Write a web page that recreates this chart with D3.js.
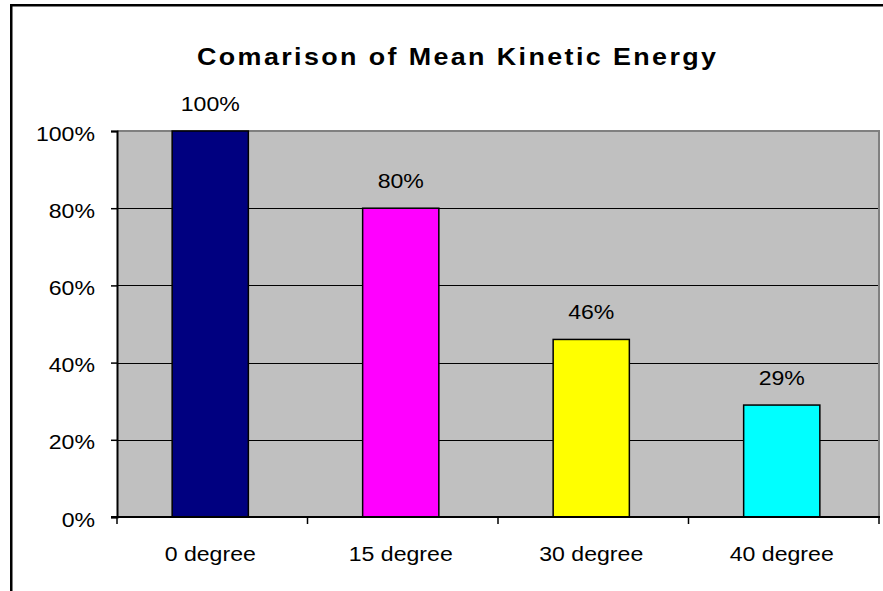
<!DOCTYPE html>
<html>
<head>
<meta charset="utf-8">
<script src="https://cdn.jsdelivr.net/npm/d3@7"></script>
<style>
  html, body { margin: 0; padding: 0; background: #fff; }
  svg { display: block; }
  text { font-family: Arial, "Liberation Sans", sans-serif; fill: #000; }
</style>
</head>
<body>
<svg id="chart" width="883" height="591"></svg>
<script>
const title = "Comarison of Mean Kinetic Energy";
const categories = ["0 degree", "15 degree", "30 degree", "40 degree"];
const values = [1.00, 0.80, 0.46, 0.29];
const valueLabels = ["100%", "80%", "46%", "29%"];
const colors = ["#000080", "#FF00FF", "#FFFF00", "#00FFFF"];
const yTicks = [0, 0.2, 0.4, 0.6, 0.8, 1.0];

const svg = d3.select("#chart");
const W = 883, H = 591;
const plot = { left: 117, right: 879, top: 131, bottom: 517 };
const SX = 1.1; // horizontal stretch of the text glyphs
const FS = 21;

// outer frame
svg.append("rect")
  .attr("x", 11.25).attr("y", 5.25)
  .attr("width", W).attr("height", H)
  .attr("fill", "#fff").attr("stroke", "#000").attr("stroke-width", 2.5);

// title
const TS = 1.12;
svg.append("text")
  .attr("transform", `translate(${(197 + 716) / 2},65) scale(${TS},1)`)
  .attr("text-anchor", "middle")
  .attr("font-size", 24).attr("font-weight", "bold")
  .attr("textLength", 519 / TS).attr("lengthAdjust", "spacing")
  .text(title);

const x = d3.scaleBand().domain(categories)
  .range([plot.left, plot.right]).paddingInner(0.6).paddingOuter(0.3);
const y = d3.scaleLinear().domain([0, 1]).range([plot.bottom, plot.top]);

// plot area
svg.append("rect")
  .attr("x", plot.left).attr("y", plot.top)
  .attr("width", plot.right - plot.left).attr("height", plot.bottom - plot.top)
  .attr("fill", "#C0C0C0");

// gridlines
svg.append("g").selectAll("line")
  .data(yTicks.filter(d => d > 0 && d < 1))
  .join("line")
  .attr("x1", plot.left).attr("x2", plot.right)
  .attr("y1", d => Math.round(y(d)) + 0.5).attr("y2", d => Math.round(y(d)) + 0.5)
  .attr("stroke", "#000").attr("stroke-width", 1.2);

// plot border top/right (gray)
svg.append("path")
  .attr("d", `M${plot.left},${plot.top} H${plot.right} V${plot.bottom}`)
  .attr("fill", "none").attr("stroke", "#808080").attr("stroke-width", 2);

// bars
svg.append("g").selectAll("rect")
  .data(values)
  .join("rect")
  .attr("x", (d, i) => x(categories[i]) - 2)
  .attr("y", d => y(d))
  .attr("width", x.bandwidth())
  .attr("height", d => y(0) - y(d))
  .attr("fill", (d, i) => colors[i])
  .attr("stroke", "#000").attr("stroke-width", 1.5);

// value labels
svg.append("g").selectAll("text")
  .data(values)
  .join("text")
  .attr("transform", (d, i) => `translate(${x(categories[i]) - 2 + x.bandwidth() / 2},${y(d) - 20}) scale(${SX},1)`)
  .attr("text-anchor", "middle")
  .attr("font-size", FS)
  .text((d, i) => valueLabels[i]);

// y axis
const yAxis = d3.axisLeft(y).tickValues(yTicks).tickFormat(d3.format(".0%"))
  .tickSize(6).tickPadding(16);
const gy = svg.append("g").attr("transform", `translate(${plot.left},0)`).call(yAxis);
gy.select(".domain").attr("stroke", "#000").attr("stroke-width", 2);
gy.selectAll(".tick line").attr("stroke", "#000").attr("stroke-width", 1.5);
gy.selectAll(".tick text")
  .attr("font-size", FS).attr("font-family", "Arial, 'Liberation Sans', sans-serif")
  .attr("fill", "#000")
  .attr("x", null).attr("dy", null)
  .attr("transform", `translate(-22,9) scale(${SX},1)`);

// x axis: ticks at category boundaries
const bounds = d3.range(categories.length + 1).map(i => plot.left + i * (plot.right - plot.left) / categories.length);
const gx = svg.append("g");
gx.append("line")
  .attr("x1", plot.left - 6).attr("x2", plot.right + 1)
  .attr("y1", plot.bottom).attr("y2", plot.bottom)
  .attr("stroke", "#000").attr("stroke-width", 2);
gx.selectAll("line.tk").data(bounds).join("line").attr("class", "tk")
  .attr("x1", d => d).attr("x2", d => d)
  .attr("y1", plot.bottom).attr("y2", plot.bottom + 7)
  .attr("stroke", "#000").attr("stroke-width", 1.5);
gx.selectAll("text").data(categories).join("text")
  .attr("transform", d => `translate(${x(d) - 2 + x.bandwidth() / 2},${plot.bottom + 44}) scale(${SX},1)`)
  .attr("text-anchor", "middle")
  .attr("font-size", FS)
  .text(d => d);
</script>
</body>
</html>
